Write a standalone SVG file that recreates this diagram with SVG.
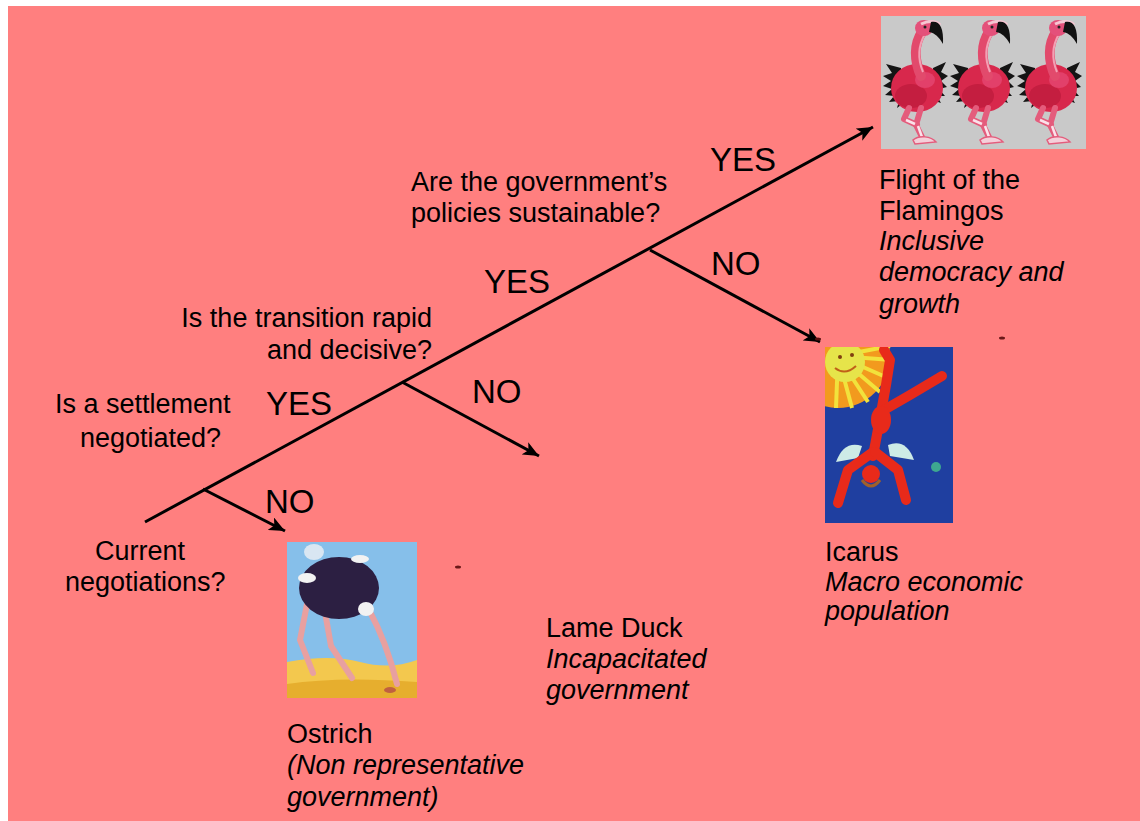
<svg xmlns="http://www.w3.org/2000/svg" width="1140" height="821" viewBox="0 0 1140 821">
  <style>
    .t { font-family: "Liberation Sans", Arial, sans-serif; font-size: 27px; fill: #000; }
    .i { font-style: italic; }
    .big { font-size: 33px; }
    .edge { stroke: #000; stroke-width: 3; fill: none; }
  </style>
  <defs>
    <marker id="arrow" markerUnits="userSpaceOnUse" markerWidth="18" markerHeight="14" refX="16" refY="7" orient="auto">
      <path d="M0,0 L16,7 L0,14 L4,7 z" fill="#000"/>
    </marker>
    <clipPath id="icarusClip"><rect x="825" y="347" width="128" height="176"/></clipPath>
    <clipPath id="ostrichClip"><rect x="287" y="542" width="130" height="156"/></clipPath>
    <!-- one flamingo, drawn in a 67px wide cell -->
    <g id="flamingo">
      <!-- black wing tips -->
      <path d="M20,52 L5,48 L11,57 L2,60 L10,65 L2,70 L11,73 L4,79 L13,80 L8,86 L18,85 L16,92 L24,86 Z" fill="#141414"/>
      <path d="M52,52 L65,46 L60,56 L67,60 L60,65 L66,71 L58,73 L64,80 L56,80 L60,87 L51,84 Z" fill="#141414"/>
      <!-- body -->
      <ellipse cx="36" cy="72" rx="26" ry="24" fill="#D8284C"/>
      <ellipse cx="30" cy="80" rx="16" ry="12" fill="#C41E40"/>
      <ellipse cx="44" cy="64" rx="10" ry="8" fill="#E2406A"/>
      <!-- neck -->
      <path d="M41,16 C33,28 33,44 40,60" stroke="#E24A6C" stroke-width="10" fill="none" stroke-linecap="round"/>
      <path d="M44,18 C37,30 37,44 42,56" stroke="#F3A0B4" stroke-width="2" fill="none"/>
      <!-- head and beak -->
      <ellipse cx="43" cy="12" rx="9" ry="8" fill="#E4507A"/>
      <path d="M40,8 C48,4 56,5 59,9" stroke="#F6C6D2" stroke-width="3" fill="none"/>
      <path d="M50,6 C58,4 63,11 62,28 C58,21 54,17 48,16 Z" fill="#111"/>
      <circle cx="44" cy="11" r="1.5" fill="#222"/>
      <!-- legs -->
      <path d="M40,92 L35,109 L42,123" stroke="#E45C7C" stroke-width="6" fill="none" stroke-linecap="round" stroke-linejoin="round"/>
      <path d="M28,92 L23,103 L36,109" stroke="#E45C7C" stroke-width="6" fill="none" stroke-linecap="round" stroke-linejoin="round"/>
      <path d="M25,104 L34,108" stroke="#FBE2EA" stroke-width="2.5"/>
      <path d="M37,110 L41,121" stroke="#FBE2EA" stroke-width="2.5"/>
      <!-- feet -->
      <path d="M32,124 C38,119 50,120 55,126 L34,128 Z" fill="#F4D0DA" stroke="#E45C7C" stroke-width="1.5"/>
    </g>
  </defs>

  <!-- page and slide background -->
  <rect x="0" y="0" width="1140" height="821" fill="#FFFFFF"/>
  <rect x="8" y="6" width="1132" height="815" fill="#FF7F7F"/>

  <!-- connectors -->
  <g id="connectors">
    <path class="edge" d="M145,522 L873,127" marker-end="url(#arrow)"/>
    <path class="edge" d="M203,489 L285,531" marker-end="url(#arrow)"/>
    <path class="edge" d="M402,382 L539,456" marker-end="url(#arrow)"/>
    <path class="edge" d="M650,250 L820,342" marker-end="url(#arrow)"/>
  </g>

  <!-- branch labels -->
  <g id="labels">
    <text class="t big" x="710" y="171">YES</text>
    <text class="t big" x="711" y="275">NO</text>
    <text class="t big" x="484" y="293">YES</text>
    <text class="t big" x="472" y="403">NO</text>
    <text class="t big" x="266" y="415">YES</text>
    <text class="t big" x="265" y="513">NO</text>
  </g>

  <!-- questions -->
  <g id="q-sustainable">
    <text class="t" x="411" y="191">Are the government’s</text>
    <text class="t" x="411" y="222">policies sustainable?</text>
  </g>
  <g id="q-transition">
    <text class="t" x="432" y="327" text-anchor="end">Is the transition rapid</text>
    <text class="t" x="432" y="359" text-anchor="end">and decisive?</text>
  </g>
  <g id="q-settlement">
    <text class="t" x="55" y="413">Is a settlement</text>
    <text class="t" x="80" y="447">negotiated?</text>
  </g>
  <g id="q-current">
    <text class="t" x="95" y="560">Current</text>
    <text class="t" x="65" y="591">negotiations?</text>
  </g>

  <!-- outcome: flamingos -->
  <g id="flamingos">
    <rect x="881" y="16" width="205" height="133" fill="#C9C9C9"/>
    <use href="#flamingo" x="881" y="16"/>
    <use href="#flamingo" x="948" y="16"/>
    <use href="#flamingo" x="1015" y="16"/>
    <text class="t" x="879" y="189">Flight of the</text>
    <text class="t" x="879" y="220">Flamingos</text>
    <text class="t i" x="879" y="250">Inclusive</text>
    <text class="t i" x="879" y="281">democracy and</text>
    <text class="t i" x="879" y="313">growth</text>
  </g>

  <!-- outcome: icarus -->
  <g id="icarus">
    <rect x="825" y="347" width="128" height="176" fill="#1F3FA0"/>
    <g clip-path="url(#icarusClip)">
      <circle cx="838" cy="356" r="52" fill="#F29A1E"/>
      <g stroke="#F2E23C" stroke-width="4">
        <line x1="838" y1="356" x2="892" y2="360"/>
        <line x1="838" y1="356" x2="888" y2="378"/>
        <line x1="838" y1="356" x2="880" y2="392"/>
        <line x1="838" y1="356" x2="868" y2="402"/>
        <line x1="838" y1="356" x2="852" y2="408"/>
        <line x1="838" y1="356" x2="836" y2="408"/>
        <line x1="838" y1="356" x2="890" y2="346"/>
      </g>
      <circle cx="845" cy="362" r="20" fill="#E6E44A"/>
      <path d="M835,368 Q845,376 856,366" stroke="#C06018" stroke-width="2" fill="none"/>
      <circle cx="840" cy="357" r="2" fill="#804010"/>
      <circle cx="852" cy="355" r="2" fill="#804010"/>
      <!-- wings -->
      <path d="M836,462 Q844,440 862,446 L858,458 Z" fill="#CDEBE6"/>
      <path d="M888,445 Q906,438 914,460 L890,456 Z" fill="#CDEBE6"/>
      <!-- falling figure -->
      <g stroke="#E82A1A" stroke-width="10" fill="none" stroke-linecap="round" stroke-linejoin="round">
        <path d="M881,413 L886,385 L890,360 L884,350"/>
        <path d="M884,410 L910,395 L942,376"/>
        <path d="M881,413 L873,456"/>
        <path d="M873,452 L848,470 L838,503"/>
        <path d="M875,452 L898,470 L906,500"/>
      </g>
      <ellipse cx="881" cy="420" rx="10" ry="14" fill="#E82A1A"/>
      <circle cx="871" cy="474" r="9" fill="#E82A1A"/>
      <path d="M862,480 Q871,492 880,480" stroke="#A0602A" stroke-width="3" fill="none"/>
      <circle cx="936" cy="467" r="5" fill="#3EA890"/>
    </g>
    <ellipse cx="818" cy="339" rx="3" ry="1.5" fill="#5A1010"/>
    <text class="t" x="825" y="561">Icarus</text>
    <text class="t i" x="825" y="591">Macro economic</text>
    <text class="t i" x="825" y="620">population</text>
  </g>

  <!-- outcome: lame duck -->
  <g id="lame-duck">
    <text class="t" x="546" y="637">Lame Duck</text>
    <text class="t i" x="546" y="668">Incapacitated</text>
    <text class="t i" x="546" y="699">government</text>
  </g>

  <!-- outcome: ostrich -->
  <g id="ostrich">
    <rect x="287" y="542" width="130" height="156" fill="#86BFEA"/>
    <g clip-path="url(#ostrichClip)">
      <path d="M287,662 Q330,654 360,662 T417,660 L417,698 L287,698 Z" fill="#F3C84E"/>
      <path d="M287,684 Q340,676 417,682 L417,698 L287,698 Z" fill="#E6AE2E"/>
      <!-- cloud -->
      <ellipse cx="314" cy="552" rx="10" ry="8" fill="#EEF0F4" opacity="0.8"/>
      <!-- legs and neck -->
      <g stroke="#E8A0A0" stroke-width="6" fill="none" stroke-linecap="round" stroke-linejoin="round">
        <path d="M307,604 L300,640 L313,673"/>
        <path d="M325,612 L331,646 L352,678"/>
        <path d="M369,610 C380,630 390,656 397,684"/>
      </g>
      <!-- body -->
      <ellipse cx="339" cy="588" rx="40" ry="31" fill="#2C1F42"/>
      <ellipse cx="307" cy="578" rx="9" ry="5" fill="#F2F2F2"/>
      <ellipse cx="360" cy="559" rx="9" ry="4" fill="#F2F2F2"/>
      <ellipse cx="366" cy="609" rx="8" ry="7" fill="#F2F2F2"/>
      <ellipse cx="390" cy="690" rx="6" ry="3" fill="#C06040"/>
    </g>
    <text class="t" x="287" y="743">Ostrich</text>
    <text class="t i" x="287" y="774">(Non representative</text>
    <text class="t i" x="287" y="806">government)</text>
  </g>

  <!-- small marks on the slide -->
  <ellipse cx="458" cy="567" rx="3" ry="1.5" fill="#6A1818"/>
  <ellipse cx="1002" cy="338" rx="3" ry="1.5" fill="#6A1818"/>
</svg>
